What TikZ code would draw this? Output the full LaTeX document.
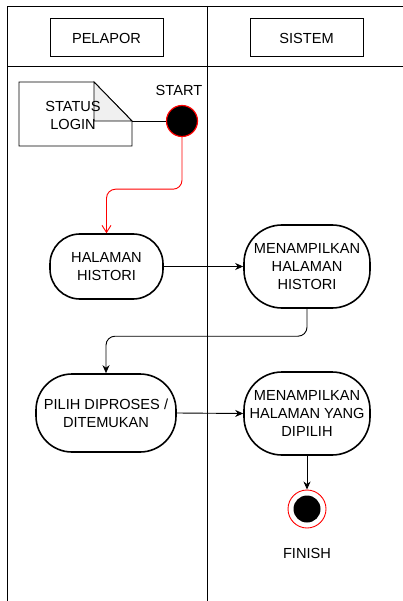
\documentclass[tikz,border=0pt]{standalone}
\usepackage{fontspec}
\setmainfont{Liberation Sans}
\usetikzlibrary{arrows.meta,calc}
\begin{document}
\begin{tikzpicture}[x=1pt,y=-1pt,
  lane/.style={draw=black,line width=0.9pt},
  head/.style={draw=black,line width=1pt,minimum width=113pt,minimum height=38pt,inner sep=0pt,
    font=\fontsize{14.6}{18}\selectfont},
  act/.style={draw=black,line width=1.6pt,fill=white,align=center,inner sep=0pt,
    font=\fontsize{14.6}{18}\selectfont},
  flow/.style={draw=black,line width=0.9pt,-{Stealth[length=8pt,width=7pt,inset=2.5pt]},rounded corners=9pt},
  redflow/.style={draw=red,line width=0.9pt,-{Straight Barb[length=7pt,width=9pt]},rounded corners=9pt},
  lbl/.style={inner sep=0pt,font=\fontsize{14.6}{18}\selectfont,align=center}]
\useasboundingbox (0,0) rectangle (403,601);
\fill[white] (0,0) rectangle (403,601);

% swimlane frame
\draw[lane] (7,601) -- (7,6) -- (403,6);
\draw[lane] (7,66) -- (403,66);
\draw[lane] (207,6) -- (207,601);

% lane headers
\node[head] (pelapor) at (106.5,38) {PELAPOR};
\node[head] (sistem) at (306.5,38) {SISTEM};

% note with folded corner
\draw[line width=0.9pt,fill=white] (19,82) -- (94,82) -- (132,121) -- (132,146) -- (19,146) -- cycle;
\draw[line width=0.9pt,fill=gray!12] (94,82) -- (94,121) -- (132,121) -- cycle;
\coordinate (notetip) at (132,121);
\node[lbl] (note) at (73,115) {STATUS\\LOGIN};

% start node
\node[circle,fill=black,draw=red,line width=1.2pt,minimum size=31pt,inner sep=0pt] (start) at (182,121) {};
\node[lbl] (startlbl) at (179,90) {START};
\draw[line width=0.9pt] (notetip) -- (start.west);

% activities
\node[act,rounded corners=30pt,minimum width=113pt,minimum height=65pt] (hal) at (106.5,266.5) {HALAMAN\\HISTORI};
\node[act,rounded corners=38pt,minimum width=126pt,minimum height=83pt] (men1) at (307,266.5) {MENAMPILKAN\\HALAMAN\\HISTORI};
\node[act,rounded corners=36pt,minimum width=140pt,minimum height=78pt] (pilih) at (106,413) {PILIH DIPROSES /\\DITEMUKAN};
\node[act,rounded corners=38pt,minimum width=126pt,minimum height=83pt] (men2) at (307,413.5) {MENAMPILKAN\\HALAMAN YANG\\DIPILIH};

% end node
\node[circle,draw=red,fill=white,line width=0.9pt,minimum size=38pt,inner sep=0pt] (finish) at (307,509) {};
\fill[black] (finish.center) circle (13.5pt);
\node[lbl] (finlbl) at (307,553) {FINISH};

% flows
\draw[redflow] (start.south) |- ($(hal.north)+(0,-44)$) -- (hal.north);
\draw[flow] (hal.east) -- (men1.west);
\draw[flow] (men1.south) |- ($(pilih.north)+(0,-37)$) -- (pilih.north);
\draw[flow] (pilih.east) -- (men2.west);
\draw[flow] (men2.south) -- (finish.north);
\end{tikzpicture}
\end{document}
